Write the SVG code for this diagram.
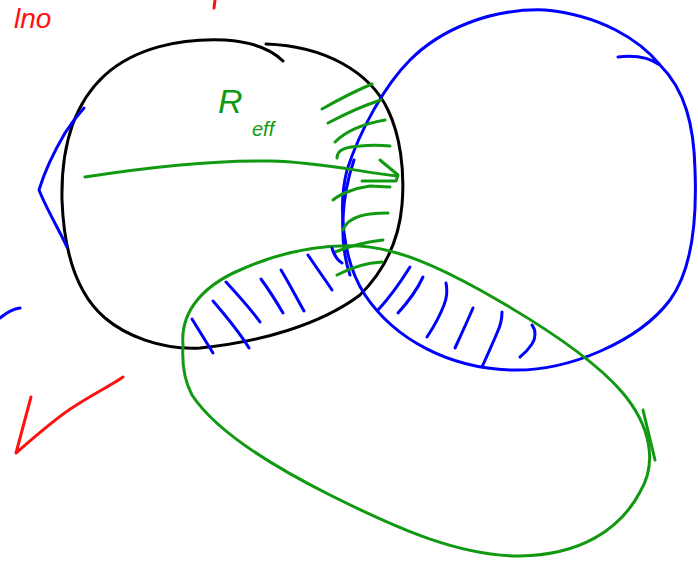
<svg xmlns="http://www.w3.org/2000/svg" width="698" height="565" viewBox="0 0 698 565">
<style>
.s{fill:none;stroke-width:3;stroke-linecap:round;stroke-linejoin:round}
.k{stroke:#000}
.b{stroke:#0000ff}
.g{stroke:#119911}
.r{stroke:#ff1111}
.t{font-family:"Liberation Sans",Arial,sans-serif}
</style>
<rect width="698" height="565" fill="#fff"/>
<g id="red-marks">
<text class="t" x="14" y="28" font-size="28" font-style="italic" fill="#ff1111">lno</text>
<path class="s r" d="M215,0 L214,8"/>
<path class="s r" d="M31,397 L16,453 C40,432 60,415 75,406 C95,393 110,386 123,377"/>
</g>
<g id="black-circle">
<path class="s k" d="M266,44 C325,46 370,72 388,110 C400,135 405,170 402,205 C399,240 385,270 360,295 C320,325 260,342 200,348 C160,350 125,335 105,318 C78,295 64,255 62,200 C61,150 72,105 105,75 C135,48 180,38 225,40 C255,42 272,50 283,61"/>
</g>
<g id="blue-circle">
<path class="s b" d="M660,65 C640,40 600,15 545,10 C490,8 440,30 410,60 C385,85 360,130 347,170 C338,205 342,260 365,295 C395,340 450,368 510,370 C570,372 640,340 670,300 C692,270 697,220 695,170 C694,125 685,90 660,65 C650,58 635,55 618,57"/>
<path class="s b" d="M354,160 C342,195 338,240 350,275"/>
</g>
<g id="green-ellipse">
<path class="s g" d="M183,345 C180,310 205,285 240,270 C280,252 320,244 360,246 C400,249 440,268 480,290 C530,318 590,355 622,392 C650,425 658,462 640,492 C620,530 580,555 520,556 C460,556 400,530 330,495 C270,465 215,430 192,395 C184,380 182,360 183,345"/>
<path class="s g" d="M643,410 L655,460"/>
</g>
<g id="left-blue">
<path class="s b" d="M84,108 C75,118 70,125 65,133 C55,150 45,170 39,190 L42,197 C50,215 60,232 67,247"/>
<path class="s b" d="M0,318 C6,313 12,309 20,308"/>
</g>
<g id="label-reff" fill="#119911" class="t">
<text x="218" y="113" font-size="34" font-style="italic">R</text>
<text x="252" y="136" font-size="20" font-style="italic">eff</text>
</g>
<g id="connectors">
<path class="s g" d="M85,177 C130,170 200,160 270,161 C320,162 360,172 397,176"/>
<path class="s g" d="M380,160 L398,175 L396,181 L362,181"/>
<path class="s g" d="M390,187 L370,186 C355,188 340,194 333,200"/>
</g>
<g id="green-hatch">
<path class="s g" d="M322,109 C338,100 355,91 372,84"/>
<path class="s g" d="M328,123 C345,114 362,106 381,100"/>
<path class="s g" d="M335,142 C345,132 362,124 385,120"/>
<path class="s g" d="M337,158 C337,150 345,147 360,146 C370,145 380,145 390,146"/>
<path class="s g" d="M343,230 C346,222 355,216 370,214 C378,213 384,213 388,213"/>
<path class="s g" d="M335,252 C350,246 365,242 383,240"/>
<path class="s g" d="M337,275 C350,268 365,263 382,262"/>
</g>
<g id="blue-hatch">
<path class="s b" d="M192,319 L213,353"/>
<path class="s b" d="M213,301 C225,315 238,330 249,348"/>
<path class="s b" d="M226,282 C238,295 250,308 260,322"/>
<path class="s b" d="M261,279 C269,290 276,301 283,313"/>
<path class="s b" d="M281,270 C289,283 296,297 304,311"/>
<path class="s b" d="M308,255 C316,267 324,278 332,290"/>
<path class="s b" d="M332,248 C334,255 337,260 342,263"/>
<path class="s b" d="M410,267 C400,283 390,297 378,310"/>
<path class="s b" d="M423,277 C417,290 408,302 398,313"/>
<path class="s b" d="M446,283 C448,292 446,300 444,305 C439,318 433,328 427,337"/>
<path class="s b" d="M473,308 C467,322 461,335 455,348"/>
<path class="s b" d="M502,312 C502,320 500,327 497,333 C492,345 487,356 482,367"/>
<path class="s b" d="M532,325 C536,330 536,338 532,344 C528,350 524,354 520,357"/>
</g>
</svg>
